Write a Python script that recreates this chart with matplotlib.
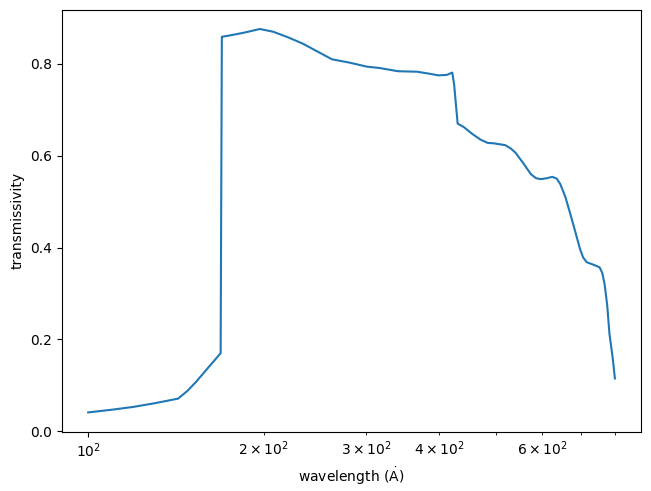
import numpy as np
import matplotlib.pyplot as plt

# wavelength in Angstrom, transmissivity
wavelength = [100, 110, 119.5, 130, 142.6, 148, 153.2, 160, 168.7,
              169.5, 175, 185, 197, 207.6, 220, 233.4, 248, 261.8,
              280, 300.5, 316, 340, 366, 383, 398.6, 412, 421,
              424, 430, 441, 455, 470.7, 484, 496, 519, 530, 540,
              557, 574, 586, 597, 611, 625, 636, 645, 658, 671,
              684, 697, 706, 716, 734, 753, 761, 768, 776, 783,
              793, 800]
transmissivity = [0.041, 0.047, 0.053, 0.061, 0.071, 0.088, 0.108, 0.136, 0.170,
                  0.859, 0.862, 0.868, 0.876, 0.870, 0.858, 0.844, 0.826, 0.810,
                  0.803, 0.794, 0.791, 0.784, 0.783, 0.779, 0.775, 0.776, 0.781,
                  0.756, 0.670, 0.662, 0.648, 0.635, 0.628, 0.627, 0.623, 0.616, 0.607,
                  0.584, 0.560, 0.551, 0.549, 0.551, 0.554, 0.550, 0.538, 0.510, 0.473,
                  0.435, 0.397, 0.378, 0.368, 0.363, 0.357, 0.345, 0.321, 0.275, 0.212,
                  0.160, 0.115]

fig = plt.figure(figsize=(6.51, 4.91), dpi=100)
ax = fig.add_axes([0.095, 0.121, 0.89, 0.859])
ax.plot(wavelength, transmissivity)
ax.set_xscale('log')
ax.set_xlabel('wavelength ($\\dot{\\mathrm{A}}$)')
ax.set_ylabel('transmissivity')
fig.savefig('out.png', dpi=100)
